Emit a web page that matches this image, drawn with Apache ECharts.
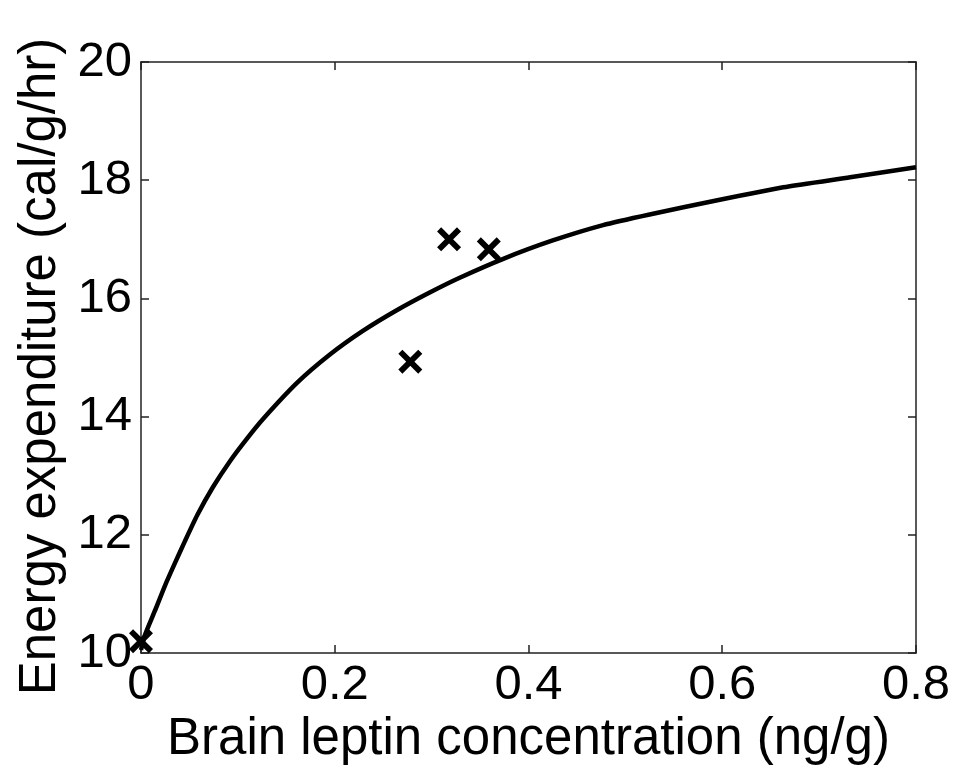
<!DOCTYPE html>
<html>
<head>
<meta charset="utf-8">
<script src="https://cdn.jsdelivr.net/npm/echarts@6/dist/echarts.min.js"></script>
<style>html,body{margin:0;padding:0;background:#fff;}#c{width:958px;height:774px;}</style>
</head>
<body>
<div id="c"></div>
<script>
// Fitted curve points: [leptin, energy]
const curveX = [0, 0.004, 0.0145, 0.025, 0.035, 0.045, 0.058, 0.074, 0.092, 0.109, 0.126, 0.161, 0.195, 0.229, 0.264, 0.298, 0.329, 0.374, 0.425, 0.477, 0.525, 0.595, 0.663, 0.732, 0.8];
const curveY = [10.05, 10.3, 10.72, 11.15, 11.52, 11.88, 12.33, 12.8, 13.25, 13.62, 13.96, 14.57, 15.05, 15.45, 15.8, 16.1, 16.35, 16.67, 16.98, 17.24, 17.42, 17.66, 17.88, 18.05, 18.22];
// Measured points (crosses)
const obsX = [0, 0.278, 0.318, 0.359];
const obsY = [10.2, 14.93, 17.0, 16.83];
// Axis settings
const xTicks = [0, 0.2, 0.4, 0.6, 0.8];
const yTicks = [10, 12, 14, 16, 18, 20];
const xTitle = 'Brain leptin concentration (ng/g)';
const yTitle = 'Energy expenditure (cal/g/hr)';

const FONT = '"Liberation Sans", Arial, sans-serif';
const chart = echarts.init(document.getElementById('c'), null, {renderer: 'canvas'});
const lineStyle = {color: '#222', width: 1.5};
const tick = {show: true, inside: true, length: 8, lineStyle: {color: '#222', width: 1.5}};
const xCommon = {type: 'value', min: xTicks[0], max: xTicks[xTicks.length - 1], interval: 0.2,
  splitLine: {show: false}, axisLine: {show: true, onZero: false, lineStyle: lineStyle}, axisTick: tick};
const yCommon = {type: 'value', min: yTicks[0], max: yTicks[yTicks.length - 1], interval: 2,
  splitLine: {show: false}, axisLine: {show: true, onZero: false, lineStyle: lineStyle}, axisTick: tick};
const xPath = 'path://M0,1.7L1.7,0L10,8.3L8.3,10Z M8.3,0L10,1.7L1.7,10L0,8.3Z';

chart.setOption({
  backgroundColor: '#fff',
  animation: false,
  grid: {left: 141, top: 62, right: 42, bottom: 121, containLabel: false},
  xAxis: [
    Object.assign({}, xCommon, {position: 'bottom',
      axisLabel: {show: true, margin: 8, fontSize: 49, fontFamily: FONT, color: '#000',
        formatter: v => (Math.round(v * 10) / 10).toString()},
      name: xTitle, nameLocation: 'middle', nameGap: 60,
      nameTextStyle: {fontSize: 51, fontFamily: FONT, color: '#000'}}),
    Object.assign({}, xCommon, {position: 'top', axisLabel: {show: false}})
  ],
  yAxis: [
    Object.assign({}, yCommon, {position: 'left',
      axisLabel: {show: true, margin: 9, fontSize: 49, fontFamily: FONT, color: '#000'},
      name: yTitle, nameLocation: 'middle', nameGap: 70,
      nameTextStyle: {fontSize: 51, fontFamily: FONT, color: '#000', padding: [0, 18, 0, 0]}}),
    Object.assign({}, yCommon, {position: 'right', axisLabel: {show: false}})
  ],
  series: [
    {type: 'line', xAxisIndex: 0, yAxisIndex: 0, showSymbol: false, smooth: 0.2,
      data: curveX.map((x, i) => [x, curveY[i]]),
      lineStyle: {color: '#000', width: 4.5}, z: 2},
    {type: 'scatter', xAxisIndex: 0, yAxisIndex: 0, symbol: xPath, symbolSize: 24, clip: false,
      data: obsX.map((x, i) => [x, obsY[i]]),
      itemStyle: {color: '#000', opacity: 1}, z: 3}
  ]
});
</script>
</body>
</html>
